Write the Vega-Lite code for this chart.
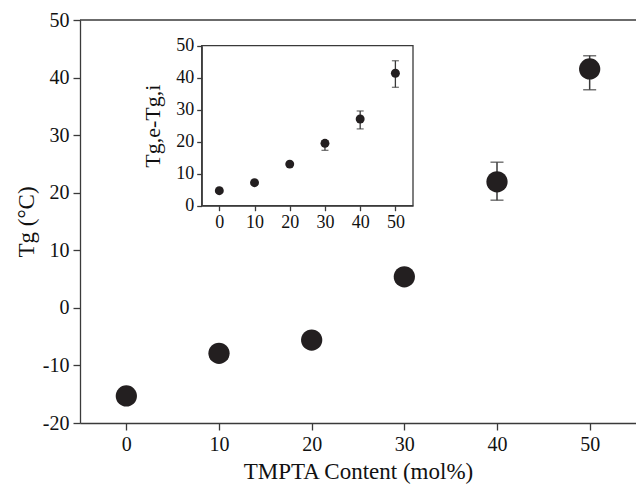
{
  "$schema": "https://vega.github.io/schema/vega-lite/v6.json",
  "width": 556,
  "height": 403,
  "autosize": {"type": "none"},
  "padding": {"left": 80, "top": 20, "right": 0, "bottom": 64},
  "background": "white",
  "config": {
    "view": {"stroke": null},
    "font": "Liberation Serif",
    "axis": {
      "grid": false,
      "domainColor": "#3a3a3a",
      "tickColor": "#3a3a3a",
      "domainWidth": 1.3,
      "tickWidth": 1.3,
      "labelColor": "#111",
      "titleColor": "#111",
      "labelFont": "Liberation Serif",
      "titleFont": "Liberation Serif",
      "titleFontWeight": "normal",
      "labelExpr": "'' + datum.value"
    }
  },
  "datasets": {
    "main": [
      {"c": 0, "tg": -15.3},
      {"c": 10, "tg": -7.9},
      {"c": 20, "tg": -5.6},
      {"c": 30, "tg": 5.4},
      {"c": 40, "tg": 21.9, "lo": 18.7, "hi": 25.3},
      {"c": 50, "tg": 41.5, "lo": 37.9, "hi": 43.8}
    ],
    "inset": [
      {"c": 0, "d": 4.7},
      {"c": 10, "d": 7.2},
      {"c": 20, "d": 13.0},
      {"c": 30, "d": 19.5, "lo": 17.3, "hi": 20.3},
      {"c": 40, "d": 27.1, "lo": 24.0, "hi": 29.6},
      {"c": 50, "d": 41.4, "lo": 37.0, "hi": 45.3}
    ]
  },
  "layer": [
    {
      "layer": [
        {
          "data": {"values": [{}]},
          "mark": {"type": "rule", "color": "#3a3a3a", "strokeWidth": 1.3},
          "encoding": {
            "y": {"datum": 50, "type": "quantitative", "title": "Tg (°C)", "scale": {"domain": [-20, 50], "nice": false, "zero": false}}
          }
        },
        {
          "data": {"name": "main"},
          "transform": [{"filter": "isValid(datum.lo)"}],
          "mark": {"type": "errorbar", "ticks": {"size": 13, "thickness": 1.5}, "color": "#3a3a3a", "thickness": 1.5},
          "encoding": {
            "x": {"field": "c", "type": "quantitative", "title": "TMPTA Content (mol%)"},
            "y": {"field": "lo", "type": "quantitative", "title": "Tg (°C)"},
            "y2": {"field": "hi"}
          }
        },
        {
          "data": {"name": "main"},
          "mark": {"type": "point", "filled": true, "shape": "circle", "size": 452, "color": "#231f20", "opacity": 1},
          "encoding": {
            "x": {
              "field": "c", "type": "quantitative", "title": "TMPTA Content (mol%)",
              "scale": {"domain": [-5, 55], "nice": false, "zero": false},
              "axis": {
                "orient": "bottom",
                "values": [0, 10, 20, 30, 40, 50],
                "labelFontSize": 20,
                "titleFontSize": 23,
                "tickSize": 7,
                "labelPadding": 4,
                "titlePadding": 6
              }
            },
            "y": {
              "field": "tg", "type": "quantitative", "title": "Tg (°C)",
              "scale": {"domain": [-20, 50], "nice": false, "zero": false},
              "axis": {
                "orient": "left",
                "values": [-20, -10, 0, 10, 20, 30, 40, 50],
                "labelFontSize": 20,
                "titleFontSize": 23,
                "tickSize": 7,
                "labelPadding": 4,
                "titlePadding": 4
              }
            }
          }
        }
      ]
    },
    {
      "layer": [
        {
          "data": {"values": [{}]},
          "mark": {"type": "rect", "fill": null, "fillOpacity": 0, "stroke": "#3a3a3a", "strokeWidth": 1.3},
          "encoding": {
            "x": {"datum": -5, "type": "quantitative", "scale": {"domain": [-5, 55], "nice": false, "zero": false, "range": [121.7, 333]}},
            "x2": {"datum": 55},
            "y": {"datum": 0, "type": "quantitative", "title": "Tg,e-Tg,i", "scale": {"domain": [0, 50], "nice": false, "zero": false, "range": [185.7, 25.7]}},
            "y2": {"datum": 50}
          }
        },
        {
          "data": {"name": "inset"},
          "transform": [{"filter": "isValid(datum.lo)"}],
          "mark": {"type": "errorbar", "ticks": {"size": 7, "thickness": 1.3}, "color": "#3a3a3a", "thickness": 1.3},
          "encoding": {
            "x": {"field": "c", "type": "quantitative", "title": null},
            "y": {"field": "lo", "type": "quantitative", "title": "Tg,e-Tg,i"},
            "y2": {"field": "hi"}
          }
        },
        {
          "data": {"name": "inset"},
          "mark": {"type": "point", "filled": true, "shape": "circle", "size": 80, "color": "#231f20", "opacity": 1},
          "encoding": {
            "x": {
              "field": "c", "type": "quantitative", "title": null,
              "scale": {"domain": [-5, 55], "nice": false, "zero": false, "range": [121.7, 333]},
              "axis": {
                "orient": "bottom",
                "offset": -217.3,
                "values": [0, 10, 20, 30, 40, 50],
                "title": null,
                "labelFontSize": 18,
                "tickSize": 5,
                "labelPadding": 3
              }
            },
            "y": {
              "field": "d", "type": "quantitative", "title": "Tg,e-Tg,i",
              "scale": {"domain": [0, 50], "nice": false, "zero": false, "range": [185.7, 25.7]},
              "axis": {
                "orient": "left",
                "offset": -121.7,
                "values": [0, 10, 20, 30, 40, 50],
                "labelFontSize": 18,
                "titleFontSize": 22,
                "tickSize": 5,
                "labelPadding": 3,
                "titlePadding": 11
              }
            }
          }
        }
      ]
    }
  ],
  "resolve": {
    "scale": {"x": "independent", "y": "independent"},
    "axis": {"x": "independent", "y": "independent"}
  }
}
